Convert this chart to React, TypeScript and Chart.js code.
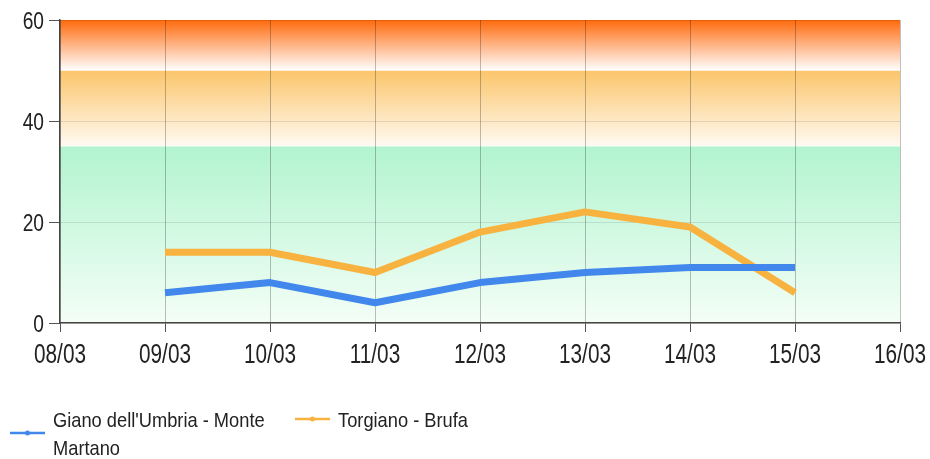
import { useEffect, useRef } from "react";
import { Chart, registerables } from "chart.js";

Chart.register(...registerables);

const categories = ["08/03", "09/03", "10/03", "11/03", "12/03", "13/03", "14/03", "15/03", "16/03"];
const gianoValues = [null, 6, 8, 4, 8, 10, 11, 11, null];
const torgianoValues = [null, 14, 14, 10, 18, 22, 19, 6, null];
const seriesLabels = ["Giano dell'Umbria - Monte Martano", "Torgiano - Brufa"];
const yMin = 0;
const yMax = 60;
const yStep = 20;
const bandLower = [0, 35, 50];
const bandUpper = [35, 50, 60];

const FONT = "'Liberation Sans', Arial, sans-serif";
const seriesColors = ["#4287ec", "#f8b23f"];
const bandTopColors = ["#b2f4cf", "#fbc56a", "#fe6a0c"];
const bandBottomColors = ["#f4fef7", "#fffaf3", "#ffffff"];

const bandsPlugin = {
  id: "bands",
  beforeDraw(chart: any) {
    const { ctx, chartArea } = chart;
    const y = chart.scales.y;
    ctx.save();
    ctx.fillStyle = "#fff";
    ctx.fillRect(0, 0, chart.width, chart.height);
    for (let i = 0; i < bandLower.length; i++) {
      const top = y.getPixelForValue(bandUpper[i]);
      const bottom = y.getPixelForValue(bandLower[i]);
      const g = ctx.createLinearGradient(0, top, 0, bottom);
      g.addColorStop(0, bandTopColors[i]);
      g.addColorStop(1, bandBottomColors[i]);
      ctx.fillStyle = g;
      ctx.fillRect(chartArea.left, top, chartArea.right - chartArea.left, bottom - top);
    }
    ctx.restore();
  },
};

function drawScaled(ctx: any, text: string, x: number, y: number, sx: number, align: string) {
  ctx.save();
  ctx.translate(x, y);
  ctx.scale(sx, 1);
  ctx.textAlign = align;
  ctx.fillText(text, 0, 0);
  ctx.restore();
}

const tickLabelPlugin = {
  id: "tickLabels",
  afterDraw(chart: any) {
    const ctx = chart.ctx;
    const xs = chart.scales.x;
    const ys = chart.scales.y;
    ctx.save();
    ctx.fillStyle = "#222";
    ctx.textBaseline = "alphabetic";
    ctx.font = `27px ${FONT}`;
    xs.ticks.forEach((t: any, i: number) => {
      drawScaled(ctx, String(t.label), xs.getPixelForTick(i), chart.chartArea.bottom + 40, 0.77, "center");
    });
    ctx.font = `24px ${FONT}`;
    ys.ticks.forEach((t: any, i: number) => {
      drawScaled(ctx, String(t.label), chart.chartArea.left - 16, ys.getPixelForTick(i) + 9, 0.8, "right");
    });
    ctx.restore();
  },
};

const legendLayout = [
  { x: 10, textX: 53, maxW: 225 },
  { x: 295, textX: 338, maxW: 300 },
];
const LEGEND_SX = 0.87;

const legendPlugin = {
  id: "customLegend",
  afterDraw(chart: any) {
    const ctx = chart.ctx;
    ctx.save();
    ctx.font = `21px ${FONT}`;
    ctx.textBaseline = "alphabetic";
    const firstBaseline = 427;
    const lineH = 28;
    chart.data.datasets.forEach((ds: any, i: number) => {
      const lay = legendLayout[i];
      const words = String(ds.label).split(" ");
      const lines: string[] = [];
      let cur = "";
      for (const w of words) {
        const test = cur ? cur + " " + w : w;
        if (ctx.measureText(test).width * LEGEND_SX > lay.maxW && cur) {
          lines.push(cur);
          cur = w;
        } else cur = test;
      }
      if (cur) lines.push(cur);
      ctx.fillStyle = "#222";
      lines.forEach((l, k) => drawScaled(ctx, l, lay.textX, firstBaseline + k * lineH, LEGEND_SX, "left"));
      const midY = firstBaseline - 8 + ((lines.length - 1) * lineH) / 2;
      ctx.strokeStyle = ds.borderColor;
      ctx.lineWidth = 2.5;
      ctx.beginPath();
      ctx.moveTo(lay.x, midY);
      ctx.lineTo(lay.x + 35, midY);
      ctx.stroke();
      ctx.fillStyle = ds.borderColor;
      ctx.beginPath();
      ctx.arc(lay.x + 17.5, midY, 2.5, 0, Math.PI * 2);
      ctx.fill();
    });
    ctx.restore();
  },
};

export default function App() {
  const ref = useRef<HTMLCanvasElement>(null);
  useEffect(() => {
    if (!ref.current) return;
    const chart = new Chart(ref.current, {
      type: "line",
      data: {
        labels: categories,
        datasets: [
          {
            label: seriesLabels[0],
            data: gianoValues,
            borderColor: seriesColors[0],
            backgroundColor: seriesColors[0],
            borderWidth: 7,
            borderJoinStyle: "round",
            pointRadius: 0,
            tension: 0,
          },
          {
            label: seriesLabels[1],
            data: torgianoValues,
            borderColor: seriesColors[1],
            backgroundColor: seriesColors[1],
            borderWidth: 7,
            borderJoinStyle: "round",
            pointRadius: 0,
            tension: 0,
          },
        ],
      },
      options: {
        animation: false,
        responsive: false,
        maintainAspectRatio: false,
        layout: { padding: { top: 20, right: 30, bottom: 0, left: 0 } },
        plugins: { legend: { display: false }, tooltip: { enabled: false } },
        scales: {
          x: {
            offset: false,
            grid: { color: "rgba(0,0,0,0.25)", tickColor: "#555", tickLength: 9, lineWidth: 1 },
            border: { color: "#444", width: 1.5 },
            ticks: { display: false, autoSkip: false, maxRotation: 0 },
            afterFit: (s: any) => {
              s.height = 136;
            },
          },
          y: {
            min: yMin,
            max: yMax,
            grid: { color: "rgba(0,0,0,0.1)", tickColor: "#555", tickLength: 11, lineWidth: 1 },
            border: { color: "#444", width: 1.5 },
            ticks: { display: false, stepSize: yStep },
            afterFit: (s: any) => {
              s.width = 60;
            },
          },
        },
      },
      plugins: [bandsPlugin, tickLabelPlugin, legendPlugin],
    });
    return () => chart.destroy();
  }, []);
  return (
    <div style={{ position: "absolute", left: 0, top: 0, width: 930, height: 459, background: "#fff" }}>
      <canvas ref={ref} width={930} height={459} style={{ width: 930, height: 459 }} />
    </div>
  );
}
